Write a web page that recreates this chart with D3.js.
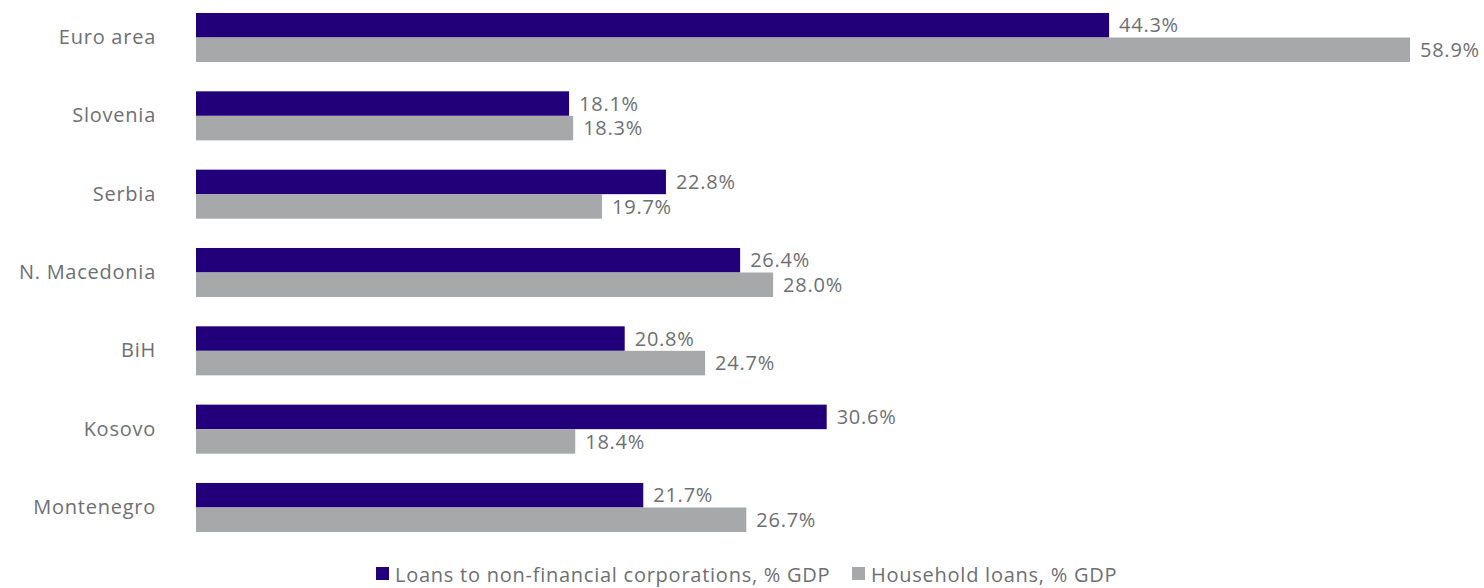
<!DOCTYPE html>
<html>
<head>
<meta charset="utf-8">
<script src="https://cdn.jsdelivr.net/npm/d3@7"></script>
<style>
  html, body { margin: 0; padding: 0; background: #ffffff; }
  svg { display: block; }
  text { font-family: "Open Sans", "Noto Sans", sans-serif; font-weight: 400; fill: #6e6f73; letter-spacing: 0.75px; }
</style>
</head>
<body>
<svg id="chart" width="1484" height="588"></svg>
<script>
// Loans as a share of GDP, by economy
const categories = ["Euro area", "Slovenia", "Serbia", "N. Macedonia", "BiH", "Kosovo", "Montenegro"];
const corporateLoans = [44.3, 18.1, 22.8, 26.4, 20.8, 30.6, 21.7];
const householdLoans = [58.9, 18.3, 19.7, 28.0, 24.7, 18.4, 26.7];
const seriesNames = ["Loans to non-financial corporations, % GDP", "Household loans, % GDP"];
const seriesColors = ["#22007a", "#a7a8aa"];

const svg = d3.select("#chart");
const fontSize = 20;

const x = d3.scaleLinear()
  .domain([0, d3.max(householdLoans.concat(corporateLoans))])
  .range([196, 1410]);

const y = d3.scaleBand()
  .domain(categories)
  .range([13, 532])
  .paddingInner(0.374)
  .paddingOuter(0);

const sub = d3.scaleBand()
  .domain([0, 1])
  .range([0, y.bandwidth()]);

const rows = categories.map((c, i) => ({ c, vals: [corporateLoans[i], householdLoans[i]] }));

const groups = svg.selectAll("g.row")
  .data(rows)
  .join("g")
  .attr("class", "row")
  .attr("transform", d => `translate(0,${y(d.c)})`);

groups.selectAll("rect")
  .data(d => d.vals.map((v, k) => ({ v, k })))
  .join("rect")
  .attr("x", x(0))
  .attr("y", d => sub(d.k))
  .attr("width", d => x(d.v) - x(0))
  .attr("height", sub.bandwidth())
  .attr("fill", d => seriesColors[d.k]);

groups.selectAll("text.val")
  .data(d => d.vals.map((v, k) => ({ v, k })))
  .join("text")
  .attr("class", "val")
  .attr("x", d => x(d.v) + 10)
  .attr("y", d => sub(d.k) + sub.bandwidth() / 2)
  .attr("dy", "0.36em")
  .attr("font-size", fontSize)
  .text(d => d.v.toFixed(1) + "%");

// Category axis on the left, no domain line or ticks
const yAxis = svg.append("g")
  .attr("transform", `translate(${x(0)},0)`)
  .call(d3.axisLeft(y).tickSize(0).tickPadding(40));
yAxis.select(".domain").remove();
yAxis.selectAll("text")
  .attr("font-size", fontSize)
  .attr("font-family", null)
  .attr("fill", null);

// Legend
const legend = svg.append("g").attr("transform", "translate(376,575)");
const legendX = [0, 476];
seriesNames.forEach((name, k) => {
  const g = legend.append("g").attr("transform", `translate(${legendX[k]},0)`);
  g.append("rect").attr("x", 0).attr("y", -8).attr("width", 13).attr("height", 13).attr("fill", seriesColors[k]);
  g.append("text").attr("x", 19).attr("y", 0).attr("dy", "0.35em").attr("font-size", fontSize).text(name);
});
</script>
</body>
</html>
